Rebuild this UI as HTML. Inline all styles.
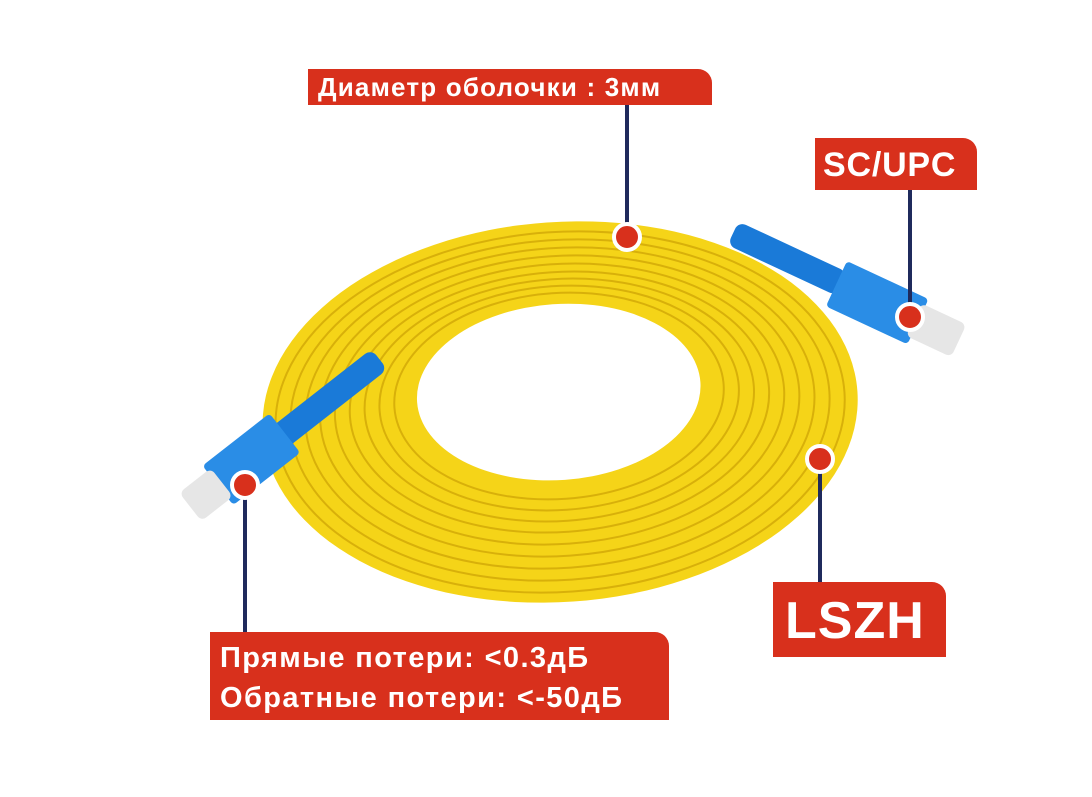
<!DOCTYPE html>
<html><head><meta charset="utf-8"><style>
body{margin:0;background:#fff;width:1092px;height:797px;overflow:hidden;font-family:"Liberation Sans",sans-serif}
.l{position:absolute;background:#d8301c;color:#fff;font-weight:bold;border-top-right-radius:14px;box-sizing:border-box;white-space:nowrap}
</style></head><body>
<svg width="1092" height="797" style="position:absolute;left:0;top:0">
<g transform="rotate(-4 560 410)">
<ellipse cx="560" cy="412" rx="298" ry="190" fill="#f5d418"/>
<g fill="none" stroke="#d8b00a" stroke-width="2">
<ellipse cx="560" cy="412" rx="285" ry="180"/>
<ellipse cx="560" cy="410" rx="270" ry="170"/>
<ellipse cx="560" cy="408" rx="255" ry="160"/>
<ellipse cx="560" cy="406" rx="240" ry="150"/>
<ellipse cx="560" cy="404" rx="225" ry="140"/>
<ellipse cx="560" cy="402" rx="210" ry="130"/>
<ellipse cx="560" cy="400" rx="195" ry="121"/>
<ellipse cx="560" cy="398" rx="180" ry="112"/>
<ellipse cx="560" cy="396" rx="165" ry="103"/>
</g>
<ellipse cx="560" cy="392" rx="142" ry="88" fill="#fff"/>
</g>
<g transform="rotate(25 850 290)">
<rect x="720" y="275" width="120" height="26" rx="8" fill="#1a7ad8"/>
<rect x="835" y="265" width="90" height="50" rx="4" fill="#2a8de6"/>
<rect x="920" y="272" width="50" height="36" rx="6" fill="#e6e6e6"/>
</g>
<g transform="rotate(-38 300 420)">
<rect x="270" y="408" width="130" height="26" rx="8" fill="#1a7ad8"/>
<rect x="195" y="396" width="85" height="50" rx="4" fill="#2a8de6"/>
<rect x="160" y="403" width="40" height="36" rx="6" fill="#e6e6e6"/>
</g>
<g stroke="#1f2a5c" stroke-width="4">
<line x1="627" y1="104" x2="627" y2="230"/>
<line x1="910" y1="188" x2="910" y2="310"/>
<line x1="820" y1="465" x2="820" y2="584"/>
<line x1="245" y1="492" x2="245" y2="634"/>
</g>
<g fill="#d8301c" stroke="#fff" stroke-width="4">
<circle cx="627" cy="237" r="13"/>
<circle cx="910" cy="317" r="13"/>
<circle cx="820" cy="459" r="13"/>
<circle cx="245" cy="485" r="13"/>
</g>
</svg>
<div class="l" style="left:308px;top:69px;width:404px;height:36px;font-size:26px;line-height:37px;padding-left:10px;letter-spacing:1.2px">Диаметр оболочки : 3мм</div>
<div class="l" style="left:815px;top:138px;width:162px;height:52px;font-size:34px;line-height:54px;padding-left:8px;letter-spacing:0.8px">SC/UPC</div>
<div class="l" style="left:773px;top:582px;width:173px;height:75px;font-size:52px;line-height:78px;padding-left:12px;letter-spacing:1px">LSZH</div>
<div class="l" style="left:210px;top:632px;width:459px;height:88px;font-size:29px;line-height:40px;padding:6px 0 0 10px;letter-spacing:1.4px">Прямые потери: &lt;0.3дБ<br>Обратные потери: &lt;-50дБ</div>
</body></html>
